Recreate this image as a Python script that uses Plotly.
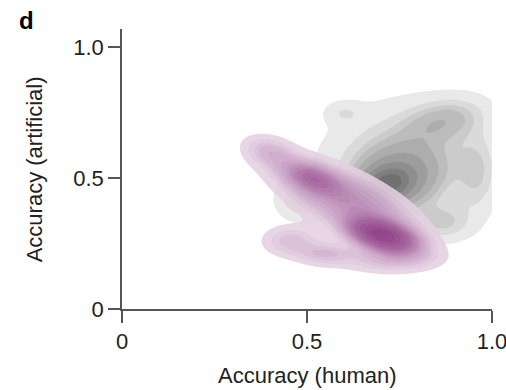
import numpy as np
import plotly.graph_objects as go

# ---- data: kernel-density components (x = human acc., y = artificial acc.)
gray_cx  = [0.715, 0.74, 0.76, 0.87, 0.96, 0.60, 0.87, 0.48]
gray_cy  = [0.475, 0.50, 0.55, 0.72, 0.52, 0.75, 0.33, 0.42]
gray_sx  = [0.04, 0.065, 0.13, 0.07, 0.035, 0.035, 0.05, 0.04]
gray_sy  = [0.04, 0.07, 0.14, 0.055, 0.10, 0.03, 0.045, 0.05]
gray_rho = [0.2, 0.2, 0.1, 0.3, 0.0, 0.0, 0.0, 0.0]
gray_w   = [0.20, 0.24, 0.37, 0.07, 0.04, 0.008, 0.03, 0.03]

purple_cx  = [0.705, 0.515, 0.61, 0.455, 0.72, 0.40, 0.55]
purple_cy  = [0.28, 0.50, 0.41, 0.26, 0.19, 0.60, 0.21]
purple_sx  = [0.055, 0.05, 0.12, 0.05, 0.08, 0.045, 0.05]
purple_sy  = [0.04, 0.04, 0.10, 0.04, 0.035, 0.04, 0.03]
purple_rho = [-0.45, -0.5, -0.7, 0.0, 0.0, -0.3, 0.0]
purple_w   = [0.33, 0.10, 0.38, 0.04, 0.06, 0.035, 0.03]

x_ticks = [0, 0.5, 1.0]
x_ticklabels = ["0", "0.5", "1.0"]
y_ticks = [0, 0.5, 1.0]
y_ticklabels = ["0", "0.5", "1.0"]

gx = np.linspace(-0.2, 1.3, 301)
gy = np.linspace(-0.2, 1.3, 301)
XX, YY = np.meshgrid(gx, gy)


def density(cx, cy, sx, sy, rho, w):
    z = np.zeros_like(XX)
    for a, b, s1, s2, r, ww in zip(cx, cy, sx, sy, rho, w):
        dx = (XX - a) / s1
        dy = (YY - b) / s2
        q = (dx ** 2 - 2 * r * dx * dy + dy ** 2) / (1 - r ** 2)
        z += ww * np.exp(-0.5 * q) / (2 * np.pi * s1 * s2 * np.sqrt(1 - r ** 2))
    return z


def iso_proportion(z):
    flat = z.ravel()
    order = np.argsort(flat)
    cum = np.cumsum(flat[order])
    cum /= cum[-1]
    p = np.empty_like(flat)
    p[order] = cum
    return p.reshape(z.shape)


def make_trace(z, light, dark, nlev, opacity, thresh=0.05):
    P = iso_proportion(z)
    size = (1 - thresh) / (nlev - 1)
    end = thresh + (nlev - 2) * size
    nc = nlev - 1
    scale = [[0, "rgba(255,255,255,0)"], [1.0 / nc, light], [1, dark]]
    return go.Contour(
        x=gx, y=gy, z=P,
        autocontour=False,
        contours=dict(start=thresh, end=end, size=size, coloring="fill"),
        colorscale=scale, showscale=False,
        line=dict(width=0), opacity=opacity,
        hoverinfo="skip",
    )


fig = go.Figure()
fig.add_trace(make_trace(density(gray_cx, gray_cy, gray_sx, gray_sy, gray_rho, gray_w),
                         "rgb(233,233,233)", "rgb(112,112,112)", 10, 1.0))
fig.add_trace(make_trace(density(purple_cx, purple_cy, purple_sx, purple_sy, purple_rho, purple_w),
                         "rgb(229,208,227)", "rgb(135,48,127)", 16, 0.88))

FONT = "Liberation Sans, Arial, Helvetica, sans-serif"
axis_common = dict(
    showgrid=False, zeroline=False, showline=True, linecolor="#555555", linewidth=1.5,
    ticks="outside", ticklen=12, tickwidth=1.5, tickcolor="#555555",
    tickfont=dict(family=FONT, size=22, color="#222222"),
    ticklabeloverflow="allow", automargin=False,
)

fig.update_layout(
    width=506, height=390,
    margin=dict(l=122, r=14, t=29, b=81, autoexpand=False),
    paper_bgcolor="white", plot_bgcolor="white",
    showlegend=False,
    xaxis=dict(range=[0, 1.0], tickvals=x_ticks, ticktext=x_ticklabels, **axis_common),
    yaxis=dict(range=[0, 1.07], tickvals=y_ticks, ticktext=y_ticklabels, **axis_common),
    annotations=[
        dict(text="<b>d</b>", xref="paper", yref="paper", x=-0.285, y=1.03,
             xanchor="left", yanchor="middle", showarrow=False,
             font=dict(family=FONT, size=24, color="black")),
        dict(text="Accuracy (human)", xref="paper", yref="paper", x=0.5, y=-0.237,
             xanchor="center", yanchor="middle", showarrow=False,
             font=dict(family=FONT, size=22, color="#222222")),
        dict(text="Accuracy (artificial)", xref="paper", yref="paper", x=-0.237, y=0.5,
             xanchor="center", yanchor="middle", showarrow=False, textangle=-90,
             font=dict(family=FONT, size=22, color="#222222")),
    ],
)

fig.write_html("out.html", config={"displayModeBar": False},
               post_script="document.body.style.margin='0px';")
